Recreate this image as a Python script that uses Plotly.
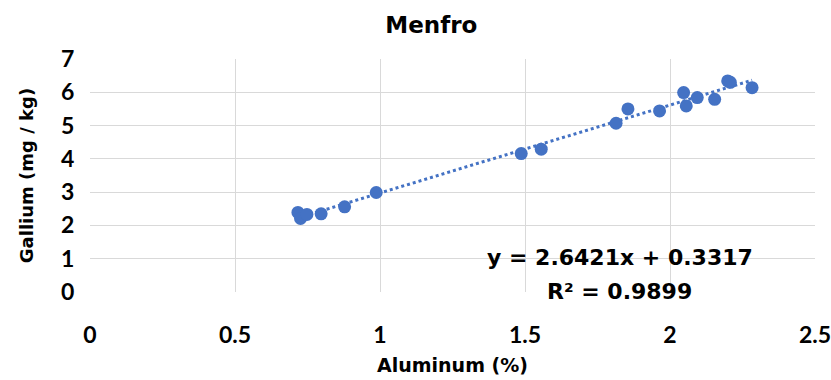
import plotly.graph_objects as go

aluminum = [0.717, 0.726, 0.748, 0.797, 0.878, 0.987, 1.487, 1.556, 1.814, 1.855,
            1.964, 2.047, 2.056, 2.094, 2.154, 2.199, 2.208, 2.283]
gallium = [2.39, 2.21, 2.33, 2.35, 2.56, 2.99, 4.16, 4.29, 5.07, 5.50,
           5.44, 5.99, 5.59, 5.84, 5.79, 6.34, 6.30, 6.14]
slope = 2.6421
intercept = 0.3317
r2 = 0.9899

x_fit = [min(aluminum), max(aluminum)]
y_fit = [slope * v + intercept for v in x_fit]

TXT = "DejaVu Sans"
NUM = "Lato"
fig = go.Figure()
fig.add_trace(go.Scatter(x=x_fit, y=y_fit, mode="lines",
                         line=dict(color="#4472C4", width=3, dash="dot"),
                         showlegend=False, hoverinfo="skip"))
fig.add_trace(go.Scatter(x=aluminum, y=gallium, mode="markers",
                         marker=dict(color="#4472C4", size=13),
                         showlegend=False))

fig.add_annotation(x=1.826, y=1.05, xref="x", yref="y",
                   text=f"y = {slope}x + {intercept}", showarrow=False,
                   font=dict(family=TXT, size=22, color="black", weight="bold"))
fig.add_annotation(x=1.826, y=0.03, xref="x", yref="y",
                   text=f"R² = {r2}", showarrow=False,
                   font=dict(family=TXT, size=22, color="black", weight="bold"))

fig.update_layout(
    width=831, height=380,
    margin=dict(l=90, r=16, t=59, b=88),
    paper_bgcolor="white", plot_bgcolor="white",
    title=dict(text="Menfro", x=0.519, xanchor="center", y=0.934, yanchor="middle",
               font=dict(family=TXT, size=23, color="black", weight="bold")),
    font=dict(family=TXT, color="black"),
)
fig.update_xaxes(range=[0, 2.5], dtick=0.5, showgrid=True, gridcolor="#d9d9d9", gridwidth=1,
                 zeroline=False, showline=False, automargin=False,
                 ticks="outside", ticklen=22, tickcolor="rgba(0,0,0,0)",
                 ticklabeloverflow="allow",
                 tickfont=dict(family=NUM, size=23, color="black", weight="bold"), tickformat="~g",
                 title=dict(text="Aluminum (%)", standoff=12,
                            font=dict(family=TXT, size=19, color="black", weight="bold")))
fig.update_yaxes(range=[0, 7], dtick=1, showgrid=True, gridcolor="#d9d9d9", gridwidth=1,
                 zeroline=False, showline=False, automargin=False,
                 ticks="outside", ticklen=10, tickcolor="rgba(0,0,0,0)",
                 tickfont=dict(family=NUM, size=23, color="black", weight="bold"),
                 title=dict(text="Gallium (mg / kg)", standoff=22,
                            font=dict(family=TXT, size=18, color="black", weight="bold")))

fig.write_html("out.html", config={"displayModeBar": False},
               post_script="document.body.style.margin='0';")
